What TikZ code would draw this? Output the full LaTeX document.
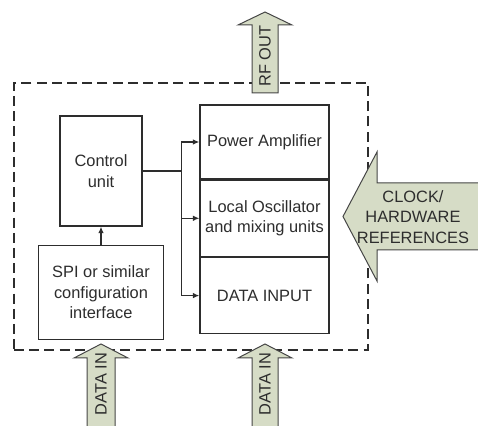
\documentclass[tikz,border=0pt]{standalone}
\usepackage{fontspec}
\setmainfont{Liberation Sans}
\usepackage{xcolor}
\usepackage{tikz}
\usetikzlibrary{arrows.meta, positioning}
\definecolor{sage}{RGB}{214,220,198}
\definecolor{ink}{RGB}{45,45,45}
\tikzstyle{unit} = [rectangle, draw=ink, line width=0.65pt, fill=white, inner sep=1pt, text centered, align=center, text=ink, font=\fontsize{8.2}{10.3}\selectfont]
\tikzstyle{frame} = [rectangle, draw=ink, line width=0.8pt, dash pattern=on 5pt off 2.6pt]
\tikzstyle{bigarrow} = [draw=gray!55!black, line width=0.5pt, fill=sage]
\tikzstyle{tag} = [text=ink, align=center, inner sep=0pt, font=\fontsize{8.2}{10.4}\selectfont]
\tikzstyle{arrow} = [line width=0.65pt, draw=ink, -{Latex[length=3.2pt,width=2.8pt]}]

\begin{document}
\begin{tikzpicture}[x=0.5pt, y=-0.5pt]
    \useasboundingbox (0,0) rectangle (478,426);
    \clip (0,0) rectangle (478,426);

    % board outline
    \node[frame, minimum width=177pt, minimum height=133.5pt] (board) at (191,216.5) {};

    \node[unit, minimum width=41pt, minimum height=55pt] (ctrl) at (101,171) {Control\\unit};
    \node[unit, below=9pt of ctrl, minimum width=62.5pt, minimum height=47pt] (spi) {SPI or similar\\configuration\\interface};
    \node[unit, minimum width=64.5pt, minimum height=37pt] (pa) at (264.5,142) {Power Amplifier};
    \node[unit, below=0pt of pa, minimum width=64.5pt, minimum height=38pt] (lo) {Local Oscillator\\and mixing units};
    \node[unit, below=0pt of lo, minimum width=64.5pt, minimum height=38pt] (di) {DATA INPUT};
    \coordinate[right=19.5pt of ctrl] (bus);

    \draw[arrow] (spi) -- (ctrl);
    \draw[arrow] (ctrl.east) -- (bus) |- (pa.west);
    \draw[arrow] (bus) |- (lo.west);
    \draw[arrow] (bus) |- (di.west);

    % block arrows
    \filldraw[bigarrow] (252,93) -- (252,25) -- (238,25) -- (265,12) -- (292,25) -- (278,25) -- (278,93) -- cycle;
    \node[tag, rotate=90] (rfout) at (265,56) {RF OUT};

    \filldraw[bigarrow] (87,432) -- (87,358) -- (74,358) -- (101,344) -- (128,358) -- (115,358) -- (115,432) -- cycle;
    \node[tag, rotate=90] (datain) at (101,384) {DATA IN};

    \filldraw[bigarrow] (252,432) -- (252,358) -- (238,358) -- (265,344) -- (292,358) -- (278,358) -- (278,432) -- cycle;
    \node[tag, rotate=90] (datain2) at (265,384) {DATA IN};

    \filldraw[bigarrow] (486,183) -- (377,183) -- (377,152) -- (343,216.5) -- (377,281) -- (377,250) -- (486,250) -- cycle;
    \node[tag] (clock) at (413,217) {CLOCK/\\HARDWARE\\REFERENCES};
\end{tikzpicture}
\end{document}
